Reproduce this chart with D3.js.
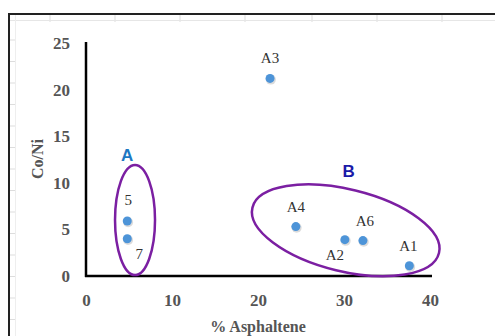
<!DOCTYPE html>
<html>
<head>
<meta charset="utf-8">
<script src="https://cdn.jsdelivr.net/npm/d3@7"></script>
<style>
  body { margin: 0; background: #fff; }
  text { font-family: "Liberation Serif", "Times New Roman", serif; }
</style>
</head>
<body>
<div id="chart"></div>
<script>
// Co/Ni vs % Asphaltene scatter, two grouped clusters (A, B)
var sampleNames = ["A3", "5", "7", "A4", "A2", "A6", "A1"];
var asphaltene = [21.4, 4.8, 4.8, 24.4, 30.1, 32.2, 37.6];
var coNi = [21.2, 5.9, 4.0, 5.3, 3.9, 3.8, 1.1];

var xTicks = [0, 10, 20, 30, 40];
var yTicks = [0, 5, 10, 15, 20, 25];

var groupNames = ["A", "B"];
var groupCenterX = [5.7, 30.2];
var groupCenterY = [6.0, 4.9];

var W = 495, H = 336;

var svg = d3.select("#chart").append("svg")
  .attr("width", W)
  .attr("height", H);

var x = d3.scaleLinear().domain([0, 40]).range([86, 430]);
var y = d3.scaleLinear().domain([0, 25]).range([276, 43]);

// spreadsheet-ish frame behind the chart
var frame = svg.append("g");
[50, 115, 180, 245, 312, 377, 442].forEach(function(gx) {
  frame.append("line")
    .attr("x1", gx).attr("x2", gx).attr("y1", 15).attr("y2", 22)
    .style("stroke", "#ddd").style("stroke-width", 1);
});
frame.append("line")
  .attr("x1", 10).attr("x2", W).attr("y1", 20.5).attr("y2", 20.5)
  .style("stroke", "#e6e6e6").style("stroke-width", 1);
d3.range(40, H, 21.5).forEach(function(gy) {
  frame.append("line")
    .attr("x1", 10).attr("x2", 15).attr("y1", gy).attr("y2", gy)
    .style("stroke", "#ddd").style("stroke-width", 1);
});
frame.append("line")
  .attr("x1", 15.5).attr("x2", 15.5).attr("y1", 15).attr("y2", H)
  .style("stroke", "#eee").style("stroke-width", 1);
frame.append("path")
  .attr("d", "M9," + H + "V14H" + W)
  .style("fill", "none")
  .style("stroke", "#222")
  .style("stroke-width", 2);

// axes (no tick marks, just the lines and labels)
var xAxis = svg.append("g")
  .attr("transform", "translate(0," + y(0) + ")")
  .call(d3.axisBottom(x).tickValues(xTicks).tickSize(0).tickPadding(18));
var yAxis = svg.append("g")
  .attr("transform", "translate(" + x(0) + ",0)")
  .call(d3.axisLeft(y).tickValues(yTicks).tickSize(0).tickPadding(16));

[xAxis, yAxis].forEach(function(ax) {
  ax.select(".domain")
    .style("stroke", "#000")
    .style("stroke-width", 2.5);
  ax.selectAll("text")
    .style("font-family", "'Liberation Serif', serif")
    .style("font-size", "17px")
    .style("font-weight", 700)
    .style("fill", "#555");
});
xAxis.select(".domain").attr("d", "M" + (x(0) - 1) + ",0H" + (x(40) + 2));
yAxis.select(".domain").attr("d", "M0," + (y(25) - 1) + "V" + (y(0) + 1));

// axis titles
svg.append("text")
  .attr("x", 258).attr("y", 332)
  .style("text-anchor", "middle")
  .style("font-size", "16px")
  .style("font-weight", 700)
  .style("fill", "#555")
  .text("% Asphaltene");
svg.append("text")
  .attr("transform", "translate(43,159) rotate(-90)")
  .style("text-anchor", "middle")
  .style("font-size", "16px")
  .style("font-weight", 700)
  .style("fill", "#555")
  .text("Co/Ni");

// cluster ellipses
var ellipseShape = { A: { rx: 20, ry: 55, rot: 0 }, B: { rx: 96, ry: 41, rot: 13.7 } };
var groupColor = { A: "#1e78c2", B: "#1a1aa8" };
var groupLabelPos = { A: [-8, -59], B: [3, -53] };

groupNames.forEach(function(g, i) {
  var cx = x(groupCenterX[i]), cy = y(groupCenterY[i]);
  var s = ellipseShape[g];
  svg.append("ellipse")
    .attr("cx", 0).attr("cy", 0)
    .attr("rx", s.rx).attr("ry", s.ry)
    .attr("transform", "translate(" + cx + "," + cy + ") rotate(" + s.rot + ")")
    .style("fill", "none")
    .style("stroke", "#7b1fa2")
    .style("stroke-width", 2.5);
  svg.append("text")
    .attr("x", cx + groupLabelPos[g][0])
    .attr("y", cy + groupLabelPos[g][1])
    .style("text-anchor", "middle")
    .style("font-family", "'Liberation Sans', Arial, sans-serif")
    .style("font-size", "17px")
    .style("font-weight", 700)
    .style("fill", groupColor[g])
    .text(g);
});

// points
var pts = sampleNames.map(function(n, i) { return { name: n, x: asphaltene[i], y: coNi[i] }; });

svg.selectAll(".pt-shadow")
  .data(pts)
  .enter()
  .append("circle")
    .attr("class", "pt-shadow")
    .attr("cx", function(d) { return x(d.x) + 0.8; })
    .attr("cy", function(d) { return y(d.y) + 1.2; })
    .attr("r", 5)
    .style("fill", "#999")
    .style("opacity", 0.35);

svg.selectAll(".pt")
  .data(pts)
  .enter()
  .append("circle")
    .attr("class", "pt")
    .attr("cx", function(d) { return x(d.x); })
    .attr("cy", function(d) { return y(d.y); })
    .attr("r", 4.5)
    .style("fill", "#4d94d8");

// point labels, offsets picked by hand to match the figure
var labelOffset = {
  "A3": [0, -15], "5": [1, -16], "7": [12, 20], "A4": [0, -15],
  "A2": [-10, 20], "A6": [2, -15], "A1": [-1, -15]
};
svg.selectAll(".ptlabel")
  .data(pts)
  .enter()
  .append("text")
    .attr("class", "ptlabel")
    .attr("x", function(d) { return x(d.x) + labelOffset[d.name][0]; })
    .attr("y", function(d) { return y(d.y) + labelOffset[d.name][1]; })
    .style("text-anchor", "middle")
    .style("font-size", "15px")
    .style("fill", "#333")
    .text(function(d) { return d.name; });
</script>
</body>
</html>
